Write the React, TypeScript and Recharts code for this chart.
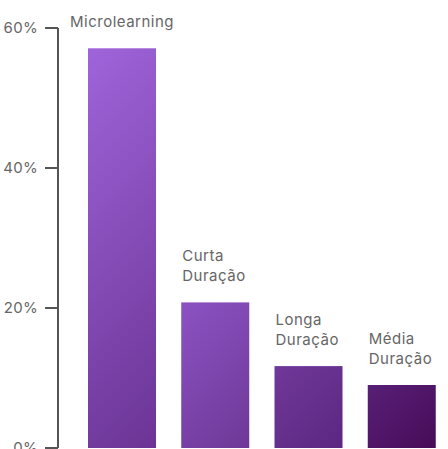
import { BarChart, Bar, XAxis, YAxis, LabelList } from "recharts";

// Share of preference by course format (%)
const categories = ["Microlearning", "Curta Duração", "Longa Duração", "Média Duração"];
const shares = [57.1, 20.8, 11.7, 9.0];
const yTicks = [0, 20, 40, 60];

// top-left -> bottom-right gradient stops for each bar
const BAR_COLORS = [
  ["#9f64da", "#6b3494"],
  ["#8b52c2", "#6e3897"],
  ["#703899", "#5b2781"],
  ["#581f77", "#470b57"],
];

const TEXT = "#666666";
const FONT = "Inter, 'Noto Sans', sans-serif";

const chartData = categories.map((name, i) => ({ name, value: shares[i] }));

// css-like 135deg gradient, computed per bar in pixel space
const GradientBar = (props: any) => {
  const { x, y, width, height, index } = props;
  const [from, to] = BAR_COLORS[index % BAR_COLORS.length];
  const d = (width + height) / 2;
  const id = `bar-grad-${index}`;
  return (
    <g>
      <defs>
        <linearGradient id={id} gradientUnits="userSpaceOnUse" x1={x} y1={y} x2={x + d} y2={y + d}>
          <stop offset="0" stopColor={from} />
          <stop offset="1" stopColor={to} />
        </linearGradient>
      </defs>
      <rect x={x} y={y} width={width} height={height} fill={`url(#${id})`} />
    </g>
  );
};

const BarLabel = (props: any) => {
  const { x, y, width, index } = props;
  const lines = categories[index].split(" ");
  const multi = lines.length > 1;
  const tx = multi ? x + 1 : x + width / 2;
  const firstY = y - 21 - (lines.length - 1) * 20;
  return (
    <text
      x={tx}
      y={firstY}
      textAnchor={multi ? "start" : "middle"}
      fill={TEXT}
      fontSize={15}
      fontFamily={FONT}
      letterSpacing={0.5}
    >
      {lines.map((line: string, i: number) => (
        <tspan key={i} x={tx} dy={i === 0 ? 0 : 20}>
          {line}
        </tspan>
      ))}
    </text>
  );
};

export default function App() {
  return (
    <div style={{ width: 448, height: 449 }}>
      <style>{`body { margin: 0; }`}</style>
      <BarChart
        width={448}
        height={449}
        data={chartData}
        margin={{ top: 28, right: 0, bottom: 1, left: 0 }}
        style={{ fontFamily: FONT }}
      >
        <XAxis dataKey="name" hide padding={{ left: 17, right: 0 }} />
        <YAxis
          width={58}
          domain={[0, 60]}
          ticks={yTicks}
          interval={0}
          tickFormatter={(v) => `${v}%`}
          tickSize={13}
          tickMargin={7}
          axisLine={{ stroke: "#555", strokeWidth: 2 }}
          tickLine={{ stroke: "#555", strokeWidth: 2 }}
          tick={{ fill: TEXT, fontSize: 15, letterSpacing: 0.3 }}
        />
        <Bar dataKey="value" barSize={68} shape={GradientBar} isAnimationActive={false}>
          <LabelList dataKey="value" content={BarLabel} />
        </Bar>
      </BarChart>
    </div>
  );
}
